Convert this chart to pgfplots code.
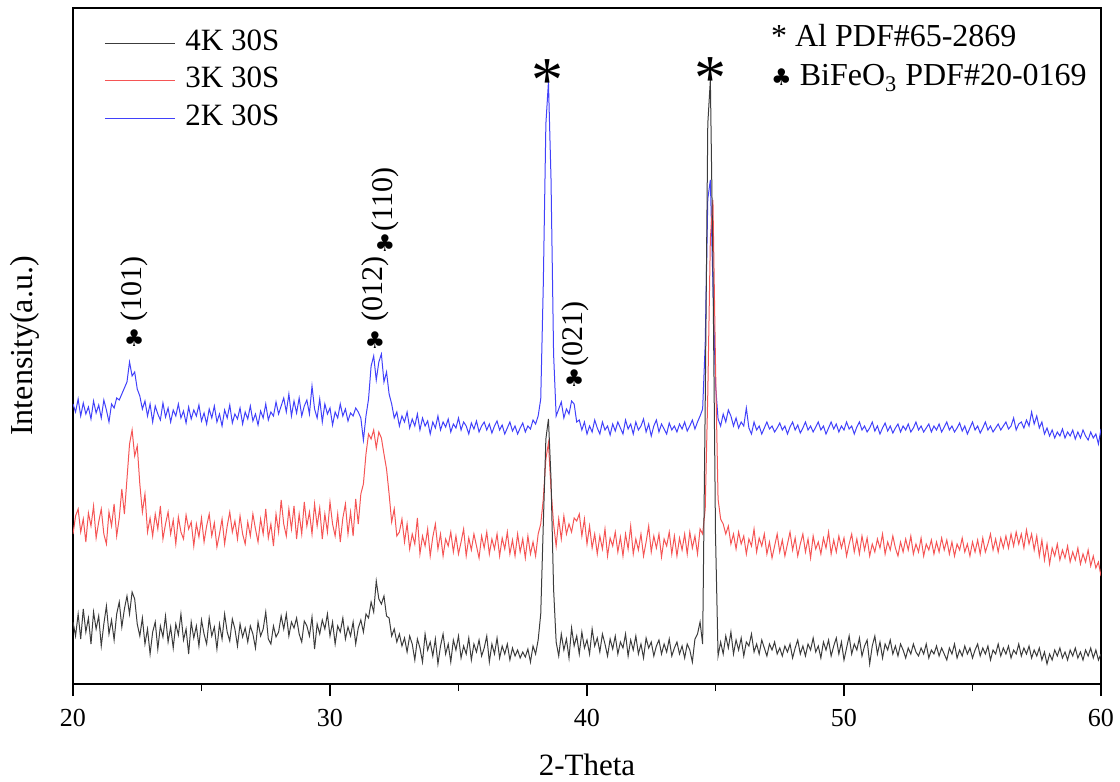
\documentclass[border=0pt]{standalone}
\usepackage{fontspec}
\setmainfont{Liberation Serif}
\newfontfamily\sym{DejaVu Sans}
\usepackage{pgfplots}
\usepackage{pgfplotstable}
\pgfplotsset{compat=1.18}

\definecolor{c4}{RGB}{60,60,60}
\definecolor{c3}{RGB}{245,85,85}
\definecolor{c2}{RGB}{65,65,250}

% 2-theta, then the three patterns (4K, 3K, 2K)
\pgfplotstableread{
x k4 k3 k2
20.0 62 150 280
20.1 48 168 272
20.2 70 175 285
20.3 45 152 268
20.4 75 165 281
20.5 52 142 270
20.6 66 171 277
20.7 40 158 265
20.8 72 178 283
20.9 55 146 271
21.0 68 162 279
21.1 38 175 266
21.2 60 150 284
21.3 78 140 274
21.4 50 172 262
21.5 64 158 280
21.6 44 180 276
21.7 70 148 286
21.8 82 166 284
21.9 57 195 290
22.0 75 170 296
22.1 88 205 302
22.2 70 240 322
22.3 92 254 308
22.4 85 228 312
22.5 60 238 295
22.6 48 200 288
22.7 66 172 275
22.8 40 190 283
22.9 55 152 268
23.0 30 166 280
23.1 52 148 262
23.2 62 170 278
23.3 35 155 270
23.4 58 178 264
23.5 47 145 281
23.6 68 160 267
23.7 42 172 276
23.8 57 150 262
23.9 36 164 274
24.0 60 140 268
24.1 49 167 280
24.2 70 152 266
24.3 44 145 273
24.4 55 169 261
24.5 30 155 277
24.6 62 162 265
24.7 46 138 274
24.8 58 160 268
24.9 38 147 279
25.0 64 166 263
25.1 50 142 271
25.2 40 158 260
25.3 66 170 275
25.4 48 148 266
25.5 57 161 278
25.6 35 137 262
25.7 60 150 270
25.8 45 165 258
25.9 70 140 274
26.0 52 158 266
26.1 43 172 279
26.2 65 152 261
26.3 55 163 270
26.4 38 145 265
26.5 60 168 276
26.6 47 150 260
26.7 56 140 272
26.8 42 162 265
26.9 58 148 278
27.0 50 170 263
27.1 36 155 270
27.2 62 142 259
27.3 48 165 273
27.4 55 150 266
27.5 72 175 280
27.6 45 146 264
27.7 40 160 272
27.8 58 138 268
27.9 47 170 282
28.0 52 152 270
28.1 68 184 278
28.2 55 160 286
28.3 70 148 272
28.4 48 175 290
28.5 62 155 268
28.6 56 178 283
28.7 66 145 271
28.8 50 170 286
28.9 42 150 268
29.0 63 182 278
29.1 58 158 284
29.2 48 172 270
29.3 67 150 298
29.4 35 180 275
29.5 60 158 266
29.6 50 176 285
29.7 64 145 262
29.8 55 170 280
29.9 70 152 270
30.0 48 182 276
30.1 62 160 259
30.2 40 148 272
30.3 58 170 266
30.4 52 142 280
30.5 66 166 268
30.6 45 180 275
30.7 57 150 263
30.8 48 172 271
30.9 62 148 268
31.0 40 185 276
31.1 56 160 272
31.2 64 190 266
31.3 52 200 244
31.4 70 230 268
31.5 66 250 285
31.6 82 245 318
31.7 72 254 328
31.8 103 236 304
31.9 85 252 322
32.0 80 246 330
32.1 88 230 302
32.2 68 215 312
32.3 66 190 290
32.4 48 162 280
32.5 55 175 266
32.6 42 148 272
32.7 50 152 258
32.8 38 165 268
32.9 46 142 262
33.0 32 160 272
33.1 48 135 256
33.2 40 150 265
33.3 24 140 258
33.4 45 166 270
33.5 36 130 254
33.6 22 148 266
33.7 50 138 258
33.8 34 155 263
33.9 42 128 250
34.0 28 147 262
34.1 45 160 256
34.2 20 135 268
34.3 38 150 254
34.4 50 128 262
34.5 30 145 257
34.6 40 138 265
34.7 22 152 252
34.8 44 132 260
34.9 34 148 256
35.0 48 130 266
35.1 26 142 254
35.2 38 155 262
35.3 30 128 258
35.4 46 146 250
35.5 24 134 261
35.6 40 150 255
35.7 32 138 263
35.8 44 126 252
35.9 28 148 258
36.0 36 136 262
36.1 48 152 254
36.2 22 130 260
36.3 40 145 251
36.4 30 135 258
36.5 46 150 263
36.6 26 128 254
36.7 38 146 259
36.8 30 135 250
36.9 40 152 256
37.0 24 130 262
37.1 36 144 253
37.2 28 128 258
37.3 34 150 250
37.4 26 132 256
37.5 32 145 261
37.6 27 126 252
37.7 35 148 258
37.8 22 130 255
37.9 38 142 264
38.0 30 128 260
38.1 44 150 268
38.2 70 160 285
38.3 160 185 400
38.4 245 225 560
38.5 265 241 602
38.6 205 195 505
38.7 95 160 330
38.8 42 138 268
38.9 28 165 275
39.0 50 145 282
39.1 34 168 266
39.2 45 150 275
39.3 26 160 270
39.4 56 152 283
39.5 38 166 280
39.6 48 163 262
39.7 30 170 264
39.8 52 148 254
39.9 36 165 262
40.0 44 140 250
40.1 30 158 258
40.2 55 136 252
40.3 38 150 264
40.4 46 130 256
40.5 32 148 250
40.6 50 135 262
40.7 40 155 254
40.8 28 128 258
40.9 45 146 249
41.0 35 138 260
41.1 48 152 253
41.2 30 132 262
41.3 42 147 256
41.4 36 128 250
41.5 50 150 264
41.6 28 135 255
41.7 44 158 260
41.8 34 130 250
41.9 48 145 262
42.0 30 134 254
42.1 40 150 258
42.2 26 128 265
42.3 46 142 252
42.4 36 158 260
42.5 42 132 248
42.6 28 148 258
42.7 38 136 264
42.8 44 150 252
42.9 30 127 260
43.0 40 145 255
43.1 32 138 250
43.2 45 152 261
43.3 28 130 254
43.4 36 148 258
43.5 42 128 252
43.6 30 146 260
43.7 38 134 255
43.8 26 150 262
43.9 40 130 253
44.0 34 152 258
44.1 22 136 264
44.2 45 148 255
44.3 50 130 262
44.4 62 155 268
44.5 40 150 275
44.6 280 175 340
44.7 560 290 485
44.8 604 445 504
44.9 420 484 400
45.0 150 320 300
45.1 28 185 265
45.2 42 165 258
45.3 30 160 270
45.4 48 150 262
45.5 36 158 274
45.6 52 140 268
45.7 30 150 258
45.8 44 135 266
45.9 34 152 256
46.0 46 140 262
46.1 28 148 258
46.2 42 130 276
46.3 38 145 256
46.4 50 138 250
46.5 32 155 262
46.6 40 132 254
46.7 30 146 258
46.8 44 138 250
46.9 36 150 256
47.0 28 130 262
47.1 40 142 255
47.2 34 126 258
47.3 42 138 252
47.4 30 150 256
47.5 36 132 261
47.6 28 144 254
47.7 38 128 258
47.8 32 140 250
47.9 40 152 257
48.0 26 134 262
48.1 36 146 254
48.2 44 128 259
48.3 30 140 251
48.4 38 150 256
48.5 28 132 262
48.6 40 145 254
48.7 34 126 258
48.8 46 148 252
48.9 32 135 257
49.0 38 142 262
49.1 26 130 254
49.2 42 146 258
49.3 34 136 250
49.4 44 152 256
49.5 28 130 262
49.6 38 144 255
49.7 46 132 260
49.8 30 148 252
49.9 42 136 258
50.0 24 146 254
50.1 36 128 262
50.2 48 140 255
50.3 30 150 258
50.4 40 132 250
50.5 34 145 257
50.6 46 130 262
50.7 28 148 254
50.8 38 134 258
50.9 44 146 252
51.0 20 128 256
51.1 38 140 262
51.2 48 132 253
51.3 30 145 258
51.4 42 136 250
51.5 26 150 256
51.6 40 130 261
51.7 34 142 253
51.8 44 134 258
51.9 30 148 251
52.0 38 136 256
52.1 28 128 260
52.2 40 142 252
52.3 34 132 258
52.4 26 145 254
52.5 36 134 260
52.6 30 148 252
52.7 40 130 256
52.8 32 140 262
52.9 28 132 254
53.0 36 146 258
53.1 30 128 252
53.2 40 140 256
53.3 26 134 260
53.4 34 144 252
53.5 30 130 258
53.6 38 142 254
53.7 28 132 260
53.8 36 146 252
53.9 30 134 257
54.0 24 144 262
54.1 36 130 254
54.2 30 142 258
54.3 40 128 252
54.4 26 140 256
54.5 34 134 261
54.6 28 146 253
54.7 38 132 258
54.8 30 140 250
54.9 36 128 256
55.0 26 142 262
55.1 34 132 254
55.2 40 144 258
55.3 28 130 251
55.4 36 146 256
55.5 30 132 262
55.6 38 140 254
55.7 24 150 258
55.8 34 134 252
55.9 30 145 256
56.0 40 132 260
56.1 28 146 254
56.2 36 136 258
56.3 30 148 262
56.4 38 136 255
56.5 26 150 258
56.6 34 138 266
56.7 30 152 254
56.8 40 140 260
56.9 28 150 262
57.0 36 136 256
57.1 30 154 264
57.2 38 140 258
57.3 26 150 272
57.4 34 134 260
57.5 28 148 268
57.6 36 128 256
57.7 24 144 262
57.8 32 124 250
57.9 20 140 256
58.0 30 120 248
58.1 24 136 254
58.2 34 128 246
58.3 28 140 252
58.4 36 124 248
58.5 26 134 255
58.6 32 126 246
58.7 24 138 252
58.8 34 122 248
58.9 28 132 254
59.0 36 124 245
59.1 26 136 252
59.2 32 120 246
59.3 24 130 254
59.4 34 122 248
59.5 28 134 244
59.6 36 118 252
59.7 26 128 246
59.8 34 116 250
59.9 24 122 240
60.0 30 108 255
}\xrd

\begin{document}
\begin{tikzpicture}
\path[use as bounding box] (-36.5pt,-49pt) rectangle (523.5pt,342pt);
\begin{axis}[
  scale only axis, width=514pt, height=338pt,
  xmin=20, xmax=60, ymin=0, ymax=676,
  xtick={20,30,40,50,60}, minor xtick={25,35,45,55},
  xtick pos=lower, ytick=\empty,
  tick align=outside, major tick length=6pt, minor tick length=3.5pt,
  every tick/.style={black, line width=0.8pt},
  axis line style={line width=1pt},
  tick label style={font=\fontsize{13}{15}\selectfont},
  xticklabel style={yshift=-3pt},
  /pgf/number format/assume math mode=true,
  xlabel={2-Theta}, ylabel={Intensity(a.u.)},
  xlabel style={font=\fontsize{15.5}{18}\selectfont, at={(axis description cs:0.5,-0.12)}, anchor=center},
  ylabel style={font=\fontsize{16}{18}\selectfont, at={(axis description cs:-0.0467,0.5)}, anchor=center},
  reverse legend,
  legend style={draw=none, fill=none, inner sep=0pt, at={(axis description cs:0,1)}, anchor=north west,
    xshift=15.5pt, yshift=-8pt, font=\fontsize{15.5}{18}\selectfont,
    nodes={inner sep=2pt, text height=11pt, text depth=3.75pt}},
  legend cell align=left,
  legend image code/.code={\draw[#1] (0pt,0pt) -- (35pt,0pt); \path (38pt,0pt);},
]
\addplot[c2, line width=0.5pt] table[x=x, y=k2] {\xrd};
\addlegendentry{2K 30S}
\addplot[c3, line width=0.5pt] table[x=x, y=k3] {\xrd};
\addlegendentry{3K 30S}
\addplot[c4, line width=0.5pt] table[x=x, y=k4] {\xrd};
\addlegendentry{4K 30S}

% Al peaks
\node[anchor=base, inner sep=0pt, font=\fontsize{32}{32}\selectfont] at (axis cs:38.48,582) {*};
\node[anchor=base, inner sep=0pt, font=\fontsize{32}{32}\selectfont] at (axis cs:44.82,584) {*};

% BiFeO3 reflections
\node[inner sep=0pt, font=\sym\fontsize{11.5}{12}\selectfont] at (axis cs:22.38,346) {♣};
\node[rotate=90, anchor=west, inner sep=0pt, font=\fontsize{15}{17}\selectfont] at (axis cs:22.4,362) {(101)};
\node[inner sep=0pt, font=\sym\fontsize{11.5}{12}\selectfont] at (axis cs:31.75,344) {♣};
\node[rotate=90, anchor=west, inner sep=0pt, font=\fontsize{15}{17}\selectfont] at (axis cs:31.77,362) {(012)};
\node[inner sep=0pt, font=\sym\fontsize{11.5}{12}\selectfont] at (axis cs:32.14,441) {♣};
\node[rotate=90, anchor=west, inner sep=0pt, font=\fontsize{15}{17}\selectfont] at (axis cs:32.16,452) {(110)};
\node[inner sep=0pt, font=\sym\fontsize{11.5}{12}\selectfont] at (axis cs:39.5,306) {♣};
\node[rotate=90, anchor=west, inner sep=0pt, font=\fontsize{15}{17}\selectfont] at (axis cs:39.55,317) {(021)};

% phase key
\node[anchor=base west, inner sep=0pt, font=\fontsize{16}{18}\selectfont] at (axis cs:47.15,637) {* Al PDF\#65-2869};
\node[anchor=base west, inner sep=0pt, font=\fontsize{16}{18}\selectfont] at (axis cs:47.15,598)
  {{\sym\fontsize{11.5}{12}\selectfont ♣} BiFeO\textsubscript{3} PDF\#20-0169};
\end{axis}
\end{tikzpicture}
\end{document}
